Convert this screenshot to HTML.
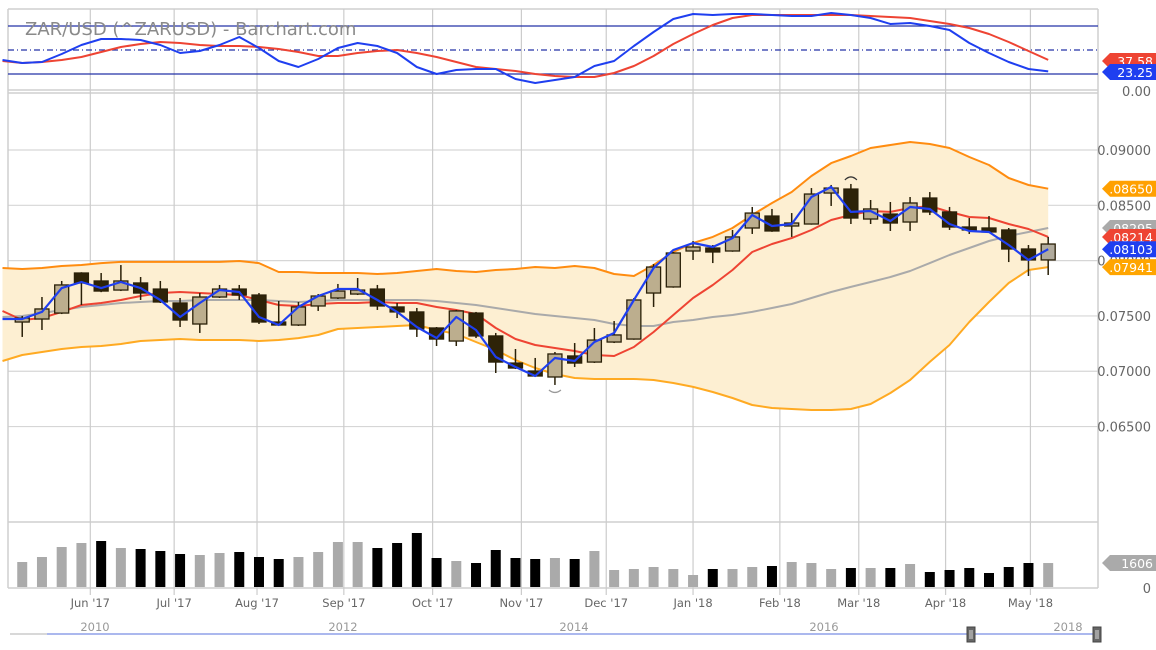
<!DOCTYPE html>
<html><head><meta charset="utf-8"><style>
body{margin:0;background:#fff;}
svg{display:block;font-family:"DejaVu Sans","Liberation Sans",sans-serif;}
</style></head><body>
<svg id="chart" width="1156" height="650" viewBox="0 0 1156 650" xmlns="http://www.w3.org/2000/svg">
<g id="grid"></g>
<g id="topPanel"></g>
<g id="main"></g>
<g id="vol"></g>
<g id="axes"></g>
<text x="25" y="35" font-size="18" fill="#8a8a8a">ZAR/USD (^ZARUSD) - Barchart.com</text>
</svg>
<script>
// prices in units of 0.00001
const opens=[7445,7472,7526,7888,7816,7734,7798,7743,7617,7427,7671,7743,7689,7445,7418,7590,7662,7698,7743,7581,7536,7391,7273,7526,7319,7074,7002,6948,7138,7083,7264,7291,7707,7762,8087,8114,8087,8295,8403,8313,8331,8611,8647,8376,8421,8349,8566,8440,8304,8295,8277,8105,8006];
const highs=[7499,7671,7816,7895,7888,7960,7852,7816,7662,7707,7780,7780,7707,7635,7626,7698,7789,7843,7780,7617,7572,7400,7554,7536,7346,7201,7120,7174,7255,7391,7454,7662,7969,8078,8177,8141,8277,8485,8467,8430,8656,8684,8693,8548,8530,8575,8620,8485,8385,8403,8295,8141,8214];
const lows=[7310,7373,7517,7599,7715,7725,7644,7617,7400,7346,7662,7644,7427,7409,7409,7545,7653,7689,7554,7481,7310,7228,7228,7300,6984,7020,6950,6876,7038,7075,7255,7285,7581,7755,8006,7978,8080,8241,8260,8214,8325,8494,8331,8331,8268,8268,8412,8277,8241,8255,7987,7861,7870];
const closes=[7481,7563,7780,7798,7725,7816,7707,7626,7463,7671,7743,7689,7445,7418,7581,7680,7725,7734,7590,7536,7382,7291,7545,7319,7083,7029,6957,7156,7074,7282,7328,7644,7942,8069,8123,8078,8214,8430,8268,8340,8602,8656,8385,8467,8340,8521,8440,8304,8277,8259,8105,8006,8150];
// indicator series (54 points, first is the week before the first candle)
const upperBand=[7933,7924,7933,7951,7960,7978,7988,7988,7988,7988,7988,7988,7997,7978,7897,7897,7888,7888,7888,7879,7888,7906,7924,7906,7897,7915,7924,7942,7933,7951,7933,7879,7861,7960,8078,8159,8214,8295,8412,8521,8620,8765,8882,8946,9018,9045,9072,9054,9018,8937,8864,8747,8684,8650];
const lowerBand=[7093,7147,7174,7201,7219,7228,7246,7273,7282,7291,7282,7282,7282,7273,7282,7300,7328,7382,7391,7400,7409,7418,7373,7337,7264,7192,7102,7029,6975,6939,6930,6930,6930,6921,6894,6858,6812,6758,6695,6668,6659,6650,6650,6659,6704,6803,6921,7084,7237,7445,7626,7798,7915,7941];
const midBand=[7490,7499,7526,7554,7581,7599,7617,7626,7635,7635,7644,7644,7644,7644,7635,7626,7635,7644,7644,7644,7644,7644,7635,7617,7599,7572,7545,7517,7499,7481,7463,7427,7409,7409,7445,7463,7490,7508,7536,7572,7608,7662,7716,7762,7807,7852,7906,7978,8051,8114,8177,8223,8259,8295];
const redMA=[7545,7463,7481,7536,7599,7617,7644,7680,7707,7716,7707,7698,7689,7644,7599,7590,7608,7617,7617,7626,7617,7617,7581,7554,7517,7391,7291,7237,7210,7183,7147,7138,7219,7355,7508,7662,7780,7915,8078,8150,8204,8277,8367,8412,8449,8440,8476,8494,8440,8394,8385,8331,8286,8214];
const blueMA=[7472,7472,7536,7752,7807,7752,7807,7752,7644,7490,7617,7734,7716,7490,7418,7581,7680,7743,7743,7644,7536,7400,7300,7490,7373,7129,7038,6957,7120,7093,7264,7346,7644,7933,8096,8159,8123,8204,8412,8313,8331,8575,8666,8440,8449,8358,8485,8467,8331,8268,8259,8141,8006,8103];
const stochK=[37.5,33.8,35,45,56.3,63.8,63.8,62.5,56.3,46.3,48.8,56.3,66.3,52.5,36.3,28.8,38.8,52.5,58.8,55,46.3,28.8,20,25,26.3,26.3,13.8,8.8,12.5,16.3,30,36.3,55,72.5,88.8,95,93.8,95,95,93.8,92.5,92.5,96.3,93.8,90,82.5,83.8,80,75,58.8,46.3,35,26.3,23.25];
const stochD=[36.3,33.8,35,37.5,41.3,47.5,53.8,57.5,60,58.8,56.3,55,55,53.8,51.3,47.5,42.5,42.5,46.3,48.8,50,46.3,41.3,35,28.8,26.3,23.8,20,17.5,16.3,16.3,21.3,30,42.5,57.5,70,81.3,90,93.8,93.8,93.8,93.8,93.8,93.8,92.5,91.3,90,86.3,82.5,77.5,70,60,48.8,37.58];
const volumes=[1675,2010,2680,2948,3082,2613,2546,2412,2211,2144,2278,2345,2010,1876,2010,2345,3015,3015,2613,2948,3618,1943,1742,1608,2479,1943,1876,1943,1876,2412,1139,1206,1340,1206,804,1206,1206,1340,1407,1675,1608,1206,1273,1273,1273,1541,1005,1139,1273,938,1340,1608,1606];
const volDown=[0,0,0,0,1,0,1,1,1,0,0,1,1,1,0,0,0,0,1,1,1,1,0,1,1,1,1,0,1,0,0,0,0,0,0,1,0,0,1,0,0,0,1,0,1,0,1,1,1,1,1,1,0];
const monthLabels=["Jun '17","Jul '17","Aug '17","Sep '17","Oct '17","Nov '17","Dec '17","Jan '18","Feb '18","Mar '18","Apr '18","May '18"];
const monthPos=[4.45,8.7,12.9,17.3,21.8,26.3,30.6,35,39.4,43.4,47.8,52.1];
const priceTicks=[9000,8500,8000,7500,7000,6500];
const yearLabels=["2010","2012","2014","2016","2018"];
const yearPos=[95,343,574,824,1068];

const NS="http://www.w3.org/2000/svg";
const xS=i=>2.5+19.73*i;
const yP=p=>150+(9000-p)/9.04;
const yV=v=>587-v/67;
const yK=v=>90-v*0.8;
function mk(tag,attrs,parent){const e=document.createElementNS(NS,tag);for(const k in attrs)e.setAttribute(k,attrs[k]);parent.appendChild(e);return e;}
const gridG=document.getElementById('grid'),topG=document.getElementById('topPanel'),mainG=document.getElementById('main'),volG=document.getElementById('vol'),axesG=document.getElementById('axes');

let pts=upperBand.map((v,i)=>xS(i)+','+yP(v)).concat(lowerBand.map((v,i)=>xS(i)+','+yP(v)).reverse()).join(' ');
const fill=mk('polygon',{points:pts,fill:'#fdefd2'},mainG);



const borders=[[8,9,1098,9],[8,90,1098,90],[8,93,1098,93],[8,522,1098,522],[8,588,1098,588],[1098,9,1098,588],[8,9,8,588]];
borders.forEach(b=>{const l=mk('line',{x1:b[0],y1:b[1],x2:b[2],y2:b[3],stroke:'#cfcfcf','stroke-width':1.5},gridG);

});
monthPos.forEach((m,k)=>{const x=xS(m);
const l=mk('line',{x1:x,y1:9,x2:x,y2:595,stroke:'#cccccc','stroke-width':1.2},gridG);


const t=mk('text',{x:x,y:607,'font-size':11.5,fill:'#666','text-anchor':'middle'},axesG);t.textContent=monthLabels[k];

});
priceTicks.forEach(p=>{const y=yP(p);
const l=mk('line',{x1:8,y1:y,x2:1098,y2:y,stroke:'#cccccc','stroke-width':1.2,'stroke-opacity':0.8},gridG);


const t=mk('text',{x:1151,y:y+5,'font-size':13,fill:'#666','text-anchor':'end'},axesG);t.textContent=(p/100000).toFixed(5);

});
[[80,'none'],[50,'6,3,1,3'],[20,'none']].forEach(r=>{const l=mk('line',{x1:8,y1:yK(r[0]),x2:1098,y2:yK(r[0]),stroke:'#2433a8','stroke-width':1.3,'stroke-dasharray':r[1]},topG);

});
function line(arr,yf,color,w,parent,name){const d=arr.map((v,i)=>(i?'L':'M')+xS(i).toFixed(1)+' '+yf(v).toFixed(1)).join(' ');
const p=mk('path',{d:d,fill:'none',stroke:color,'stroke-width':w,'stroke-linejoin':'round'},parent);

}
line(stochD,yK,'#ee4433',2,topG,'stochastic-d-line');
line(stochK,yK,'#1f3ff0',2,topG,'stochastic-k-line');
line(midBand,yP,'#aaaaaa',2,mainG,'bollinger-middle-line');
line(upperBand,yP,'#ff8c10',2,mainG,'bollinger-upper-line');
line(lowerBand,yP,'#ffaa22',2,mainG,'bollinger-lower-line');
line(redMA,yP,'#ee4433',2,mainG,'slow-moving-average');
closes.forEach((c,k)=>{const i=k+1,x=xS(i),o=opens[k];const up=c>=o;
const w=mk('line',{x1:x,y1:yP(highs[k]),x2:x,y2:yP(lows[k]),stroke:'#2a2008','stroke-width':1.5},mainG);


const t_=yP(Math.max(o,c)),h=Math.max(1.5,Math.abs(yP(o)-yP(c)));
const r=mk('rect',{x:x-7,y:t_,width:14,height:h,fill:up?(k==52?'#b0aa9c':'#bcae8e'):'#2e2308',stroke:'#2a2008','stroke-width':1.3},mainG);

});
line(blueMA,yP,'#1f3ff0',2.2,mainG,'fast-moving-average');
const m1=mk('path',{d:`M${xS(28)-6} ${yP(lows[27])+5} q6 5 12 0`,fill:'none',stroke:'#999','stroke-width':1.3},mainG);


const m2=mk('path',{d:`M${xS(43)-6} ${yP(highs[42])-4} q6 -6 12 0`,fill:'none',stroke:'#333','stroke-width':1.3},mainG);


volumes.forEach((v,k)=>{const x=xS(k+1);
const r=mk('rect',{x:x-5,y:yV(v),width:10,height:587-yV(v),fill:volDown[k]?'#000':'#aaaaaa'},volG);

});
function tag(y,txt,bg,name){const g=mk('g',{},axesG);


mk('path',{d:`M1102 ${y} l8 -8 h46 v16 h-46 z`,fill:bg},g);
const t=mk('text',{x:1153,y:y+5,'font-size':12.5,fill:'#fff','text-anchor':'end'},g);t.textContent=txt;}
tag(61,'37.58','#ee4433','stoch-d-tag');
tag(72,'23.25','#1f3ff0','stoch-k-tag');
tag(yP(upperBand[53]),'.08650','#ffa000','upper-band-tag');
tag(yP(midBand[53]),'.08295','#aaaaaa','middle-band-tag');
tag(yP(redMA[53]),'.08214','#ee4433','slow-ma-tag');
tag(yP(blueMA[53]),'.08103','#1f3ff0','fast-ma-tag');
tag(yP(lowerBand[53]),'.07941','#ffa500','lower-band-tag');
tag(563,'1606','#aaaaaa','volume-tag');
const z=mk('text',{x:1151,y:96,'font-size':13,fill:'#666','text-anchor':'end'},axesG);z.textContent='0.00';


const z2=mk('text',{x:1151,y:593,'font-size':13,fill:'#666','text-anchor':'end'},axesG);z2.textContent='0';


const s1=mk('line',{x1:10,y1:634,x2:47,y2:634,stroke:'#ccc','stroke-width':1.5},axesG);


const s2=mk('line',{x1:47,y1:634,x2:1098,y2:634,stroke:'#8fa0e8','stroke-width':1.5},axesG);


yearLabels.forEach((t,k)=>{const e=mk('text',{x:yearPos[k],y:631,'font-size':11.5,fill:'#999','text-anchor':'middle'},axesG);e.textContent=t;

});
[971,1097].forEach(x=>{const h=mk('rect',{x:x-4,y:627,width:8,height:15,fill:'#666',stroke:'#444'},axesG);


mk('line',{x1:x-1,y1:630,x2:x-1,y2:639,stroke:'#ddd'},axesG);mk('line',{x1:x+1,y1:630,x2:x+1,y2:639,stroke:'#ddd'},axesG);});
</script>
</body></html>
